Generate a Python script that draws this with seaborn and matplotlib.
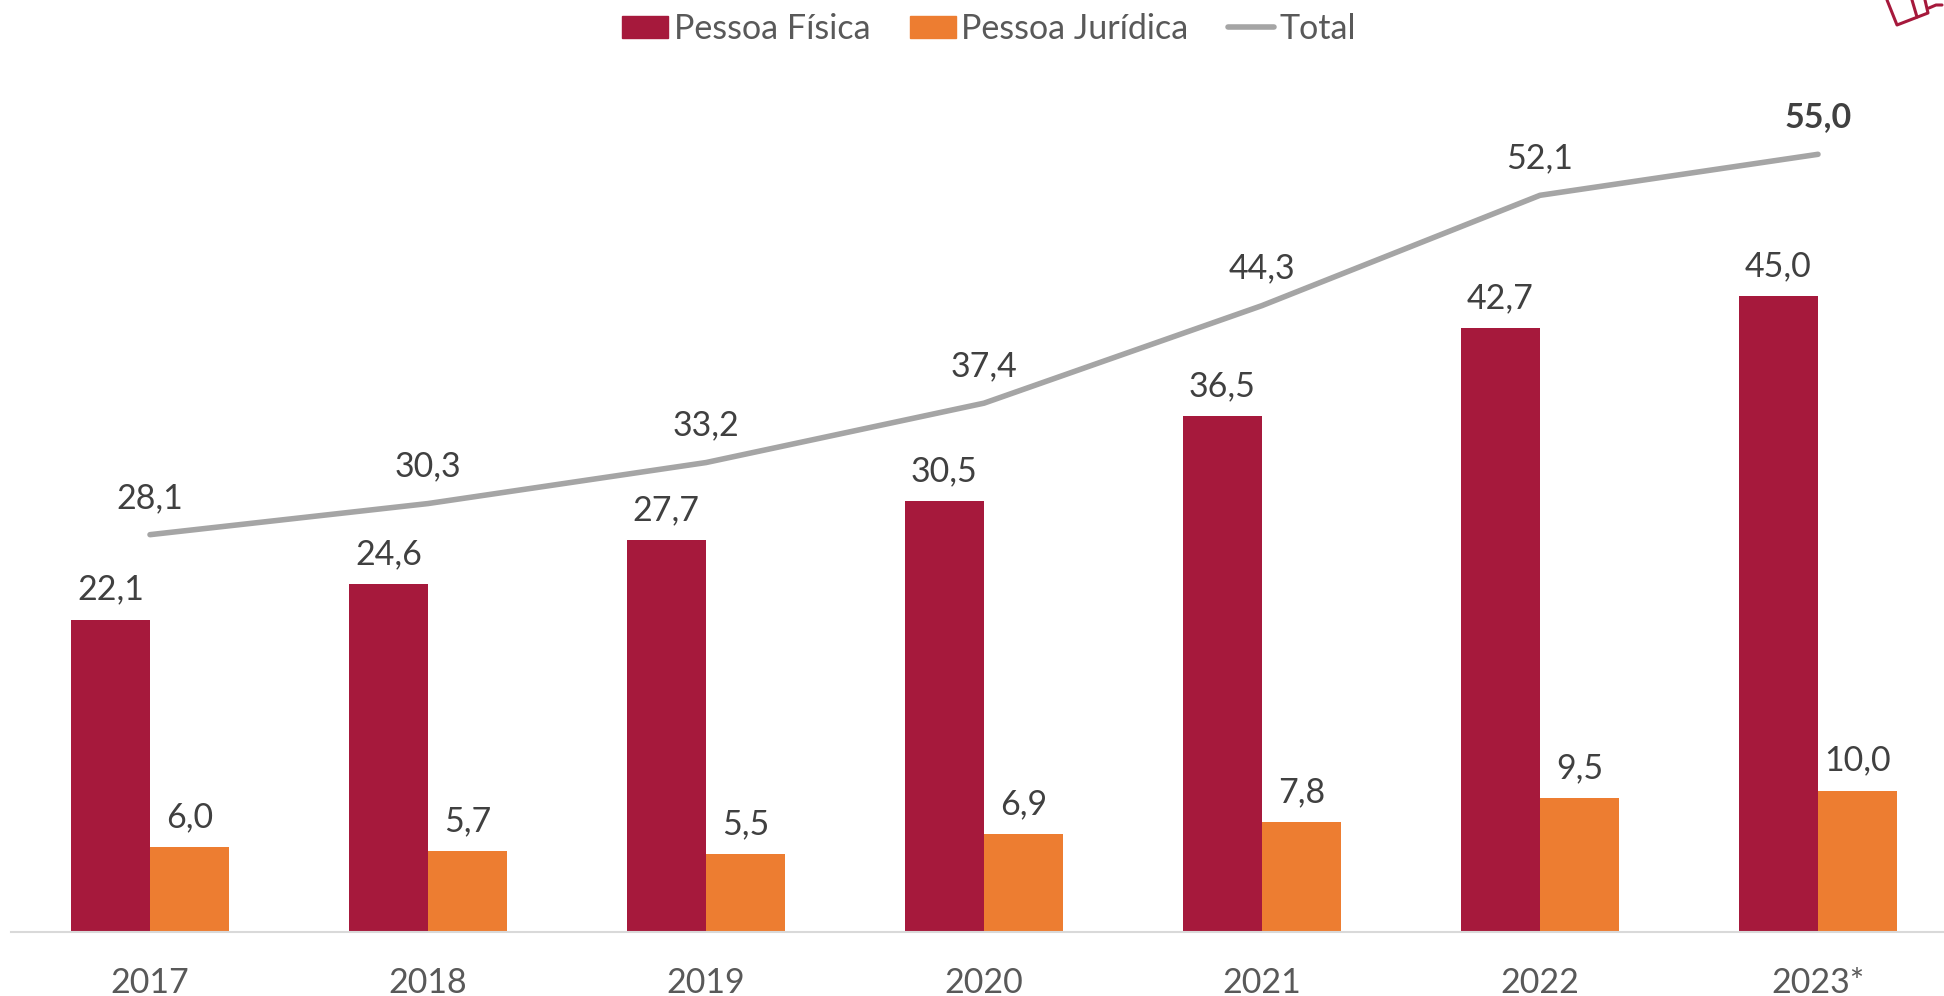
#!/usr/bin/env python
# -*- coding: utf-8 -*-
import matplotlib
matplotlib.use('Agg')
import matplotlib.pyplot as plt
from matplotlib.lines import Line2D
from matplotlib.patches import Patch
import numpy as np
import pandas as pd
import seaborn as sns

years = ['2017', '2018', '2019', '2020', '2021', '2022', '2023*']
pessoa_fisica = [22.1, 24.6, 27.7, 30.5, 36.5, 42.7, 45.0]
pessoa_juridica = [6.0, 5.7, 5.5, 6.9, 7.8, 9.5, 10.0]
total = [28.1, 30.3, 33.2, 37.4, 44.3, 52.1, 55.0]

RED = '#A6193C'
ORANGE = '#ED7D31'
GREY = '#A5A5A5'
W, H = 1944, 996
FS = 24.5


def fmt(v):
    # decimal comma
    return '{:.1f}'.format(v).replace('.', ',')


sns.set_theme(style='white')
plt.rcParams['font.family'] = ['Lato', 'DejaVu Sans']

df = pd.DataFrame({'ano': years * 2,
                   'valor': pessoa_fisica + pessoa_juridica,
                   'tipo': ['Pessoa Física'] * 7 + ['Pessoa Jurídica'] * 7})

fig = plt.figure(figsize=(W / 100, H / 100), dpi=100)
# the plot runs a little past the right edge of the picture, as in the original
ax = fig.add_axes([11 / W, (H - 932) / H, 1946 / W, 932 / H])
ax.patch.set_alpha(0)

sns.barplot(data=df, x='ano', y='valor', hue='tipo', palette=[RED, ORANGE],
            width=0.571, gap=0, saturation=1, legend=False, linewidth=0, ax=ax)
sns.lineplot(x=np.arange(len(years)), y=total, color=GREY, linewidth=4,
             solid_capstyle='round', ax=ax)

ax.set_xlim(-0.5, 6.5)
ax.set_ylim(0, 932 / 14.14)
ax.set_xlabel('')
ax.set_ylabel('')
ax.set_yticks([])
ax.tick_params(axis='x', length=0, pad=25, labelsize=FS, labelcolor='#595959')
sns.despine(ax=ax, left=True)
ax.spines['bottom'].set_color('#D9D9D9')
ax.spines['bottom'].set_linewidth(1.5)

for cont in ax.containers:
    ax.bar_label(cont, labels=[fmt(b.get_height()) for b in cont], padding=10,
                 fontsize=FS, color='#404040')
for i, v in enumerate(total):
    last = i == len(total) - 1
    ax.annotate(fmt(v), (i, v), xytext=(0, 15), textcoords='offset points',
                ha='center', va='bottom', fontsize=FS, color='#404040',
                fontweight='bold' if last else 'normal')

handles = [Patch(color=RED, label='Pessoa Física'),
           Patch(color=ORANGE, label='Pessoa Jurídica'),
           Line2D([0], [0], color=GREY, linewidth=4, solid_capstyle='round', label='Total')]
fig.legend(handles=handles, loc='center', bbox_to_anchor=(989 / W, 1 - 29 / H), ncol=3,
           frameon=False, fontsize=FS, labelcolor='#595959', handlelength=1.35,
           handleheight=0.65, handletextpad=0.17, columnspacing=1.15, borderpad=0)

# corner of the icon cropped at the top right
icon = [[(1887, 0), (1897, 25), (1928, 13), (1925, 0)],
        [(1912, 0), (1917, 17)],
        [(1929, 8), (1936, 5), (1942, 5)]]
for part in icon:
    xs, ys = zip(*part)
    fig.add_artist(Line2D(np.array(xs) / W, 1 - np.array(ys) / H, color=RED, linewidth=2.2,
                          solid_joinstyle='round', solid_capstyle='round'))

fig.savefig('out.png', dpi=100)
